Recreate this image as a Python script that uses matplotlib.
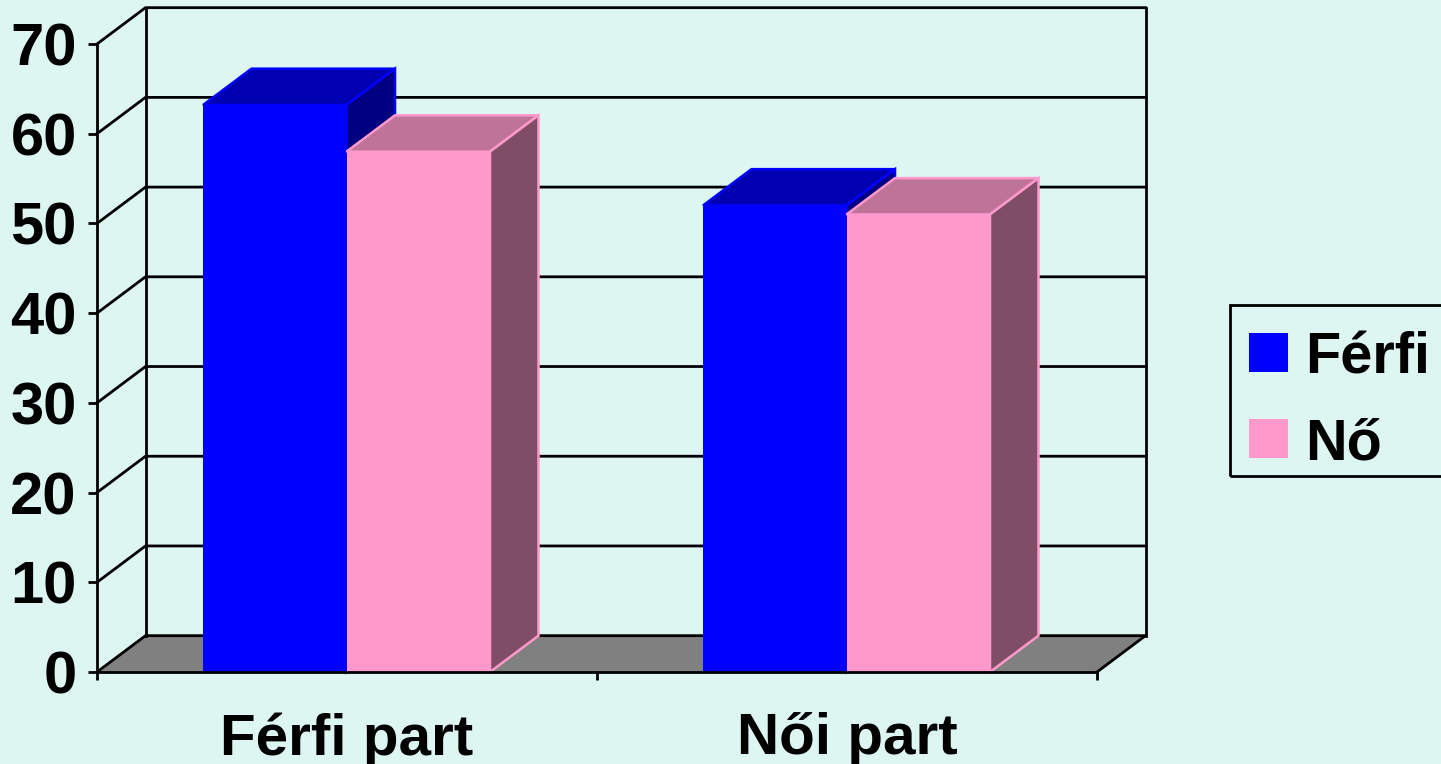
import matplotlib.pyplot as plt
from matplotlib.patches import Polygon, Rectangle

plt.rcParams['font.family'] = ['Liberation Sans', 'DejaVu Sans']
plt.rcParams['font.weight'] = 'bold'

# -----------------------------
# Data
# -----------------------------
categories = ['Férfi part', 'Női part']
series_names = ['Férfi', 'Nő']
ferfi = [63.2, 52.0]
no = [58.0, 51.0]
y_ticks = [0, 10, 20, 30, 40, 50, 60, 70]

# -----------------------------
# Styles
# -----------------------------
W, H = 1441, 764
BG = '#DDF6F2'
FLOOR = '#808080'
BLUE = {'front': '#0000FF', 'top': '#0000B0', 'side': '#000080', 'edge': '#0000FF'}
PINK = {'front': '#FF99CC', 'top': '#BF7398', 'side': '#804D66', 'edge': '#FF99CC'}
DX = 0.097   # depth of the fake 3D, category units
DY = 4.05    # depth of the fake 3D, value units
BAR_W = 0.287
BAR_START = 0.212
LW = 2.0

fig = plt.figure(figsize=(W / 100, H / 100), dpi=100, facecolor=BG)
ax = fig.add_axes([97 / W, 1 - 672 / H, 1000 / W, 628 / H])
ax.set_xlim(0, 2)
ax.set_ylim(0, 70)
ax.patch.set_visible(False)


def poly(points, color, edge=None, z=2):
    ax.add_patch(Polygon(points, closed=True, facecolor=color, edgecolor=edge or color,
                         linewidth=1.8 if edge else 0, clip_on=False, zorder=z))


def line(xs, ys, lw=LW, z=1):
    ax.plot(xs, ys, color='black', lw=lw, clip_on=False, zorder=z, solid_capstyle='projecting')


def bar3d(x, value, style, z):
    x2 = x + BAR_W
    poly([(x, value), (x + DX, value + DY), (x2 + DX, value + DY), (x2, value)], style['top'], style['edge'], z)
    poly([(x2, 0), (x2 + DX, DY), (x2 + DX, value + DY), (x2, value)], style['side'], style['edge'], z)
    poly([(x, 0), (x2, 0), (x2, value), (x, value)], style['front'], None, z + 0.5)


# -----------------------------
# Walls and floor
# -----------------------------
poly([(0, 0), (DX, DY), (2 + DX, DY), (2, 0)], FLOOR, None, 0.5)
for v in y_ticks:
    line([0, DX, 2 + DX], [v, v + DY, v + DY])
line([DX, DX], [DY, 70 + DY])
line([2 + DX, 2 + DX], [DY, 70 + DY])
line([2, 2 + DX], [0, DY])

# -----------------------------
# Bars
# -----------------------------
for i in range(len(categories)):
    bar3d(i + BAR_START, ferfi[i], BLUE, 3)
    bar3d(i + BAR_START + BAR_W, no[i], PINK, 4)

# -----------------------------
# Axes
# -----------------------------
for side in ['top', 'right']:
    ax.spines[side].set_visible(False)
for side in ['left', 'bottom']:
    ax.spines[side].set_linewidth(LW)
    ax.spines[side].set_zorder(6)

ax.set_yticks(y_ticks)
ax.set_yticklabels(y_ticks, fontsize=43, fontweight='bold')
ax.tick_params(axis='y', length=6.5, width=LW, pad=8)
ax.set_xticks([0, 1, 2])
ax.set_xticklabels([])
ax.tick_params(axis='x', which='major', length=6, width=LW)
ax.set_xticks([0.5, 1.5], minor=True)
ax.set_xticklabels(categories, minor=True, fontsize=42, fontweight='bold')
ax.tick_params(axis='x', which='minor', length=0, pad=29)

# -----------------------------
# Legend (runs off the right edge, as in the original)
# -----------------------------
fig.add_artist(Rectangle((1230 / W, 1 - 476 / H), 240 / W, 171 / H, transform=fig.transFigure,
                         facecolor='none', edgecolor='black', lw=LW))
legend_y = [353, 438]
legend_base = [374, 459]
for name, style, cy, base in zip(series_names, [BLUE, PINK], legend_y, legend_base):
    fig.add_artist(Rectangle((1249 / W, 1 - (cy + 19.5) / H), 39 / W, 39 / H, transform=fig.transFigure,
                             facecolor=style['front'], edgecolor='none'))
    fig.text(1305 / W, 1 - base / H, name, fontsize=41.5, fontweight='bold', ha='left', va='baseline')

fig.savefig('out.png', dpi=100, facecolor=BG)
plt.close(fig)
